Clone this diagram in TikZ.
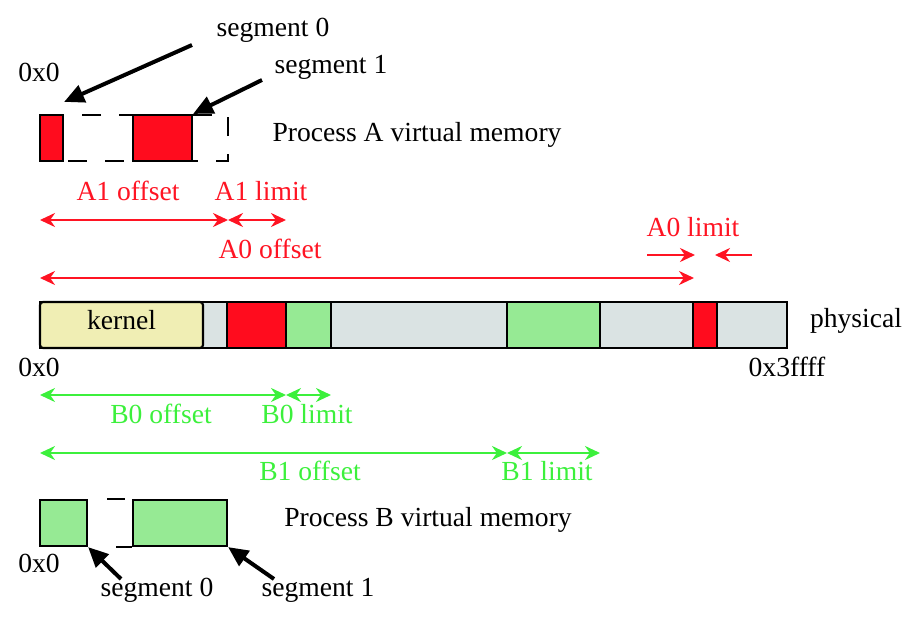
\documentclass[tikz,border=0pt]{standalone}
\usepackage{fontspec}
\setmainfont{Liberation Serif}
\usetikzlibrary{arrows.meta}
\definecolor{segred}{RGB}{255,12,30}
\definecolor{arrred}{RGB}{255,20,35}
\definecolor{seggreen}{RGB}{150,234,148}
\definecolor{arrgreen}{RGB}{60,240,60}
\definecolor{physgray}{RGB}{218,227,227}
\definecolor{kernyel}{RGB}{240,238,180}
\tikzset{
  lbl/.style={font=\fontsize{27.6}{32}\selectfont, inner sep=0pt},
  seg/.style={draw=black, line width=2.2pt, inner sep=0pt, minimum height=46pt},
  redarr/.style={draw=arrred, line width=2.4pt, {Stealth[length=15pt,width=14pt]}-{Stealth[length=15pt,width=14pt]}},
  redone/.style={draw=arrred, line width=2.4pt, -{Stealth[length=15pt,width=14pt]}},
  greenarr/.style={draw=arrgreen, line width=2.4pt, {Stealth[length=15pt,width=14pt]}-{Stealth[length=15pt,width=14pt]}},
  blackarr/.style={draw=black, line width=4pt, -{Triangle[length=20pt,width=18pt]}}
}
\begin{document}
\begin{tikzpicture}[x=1pt,y=-1pt]
\useasboundingbox (0,0) rectangle (922,640);
% ---------------- Process A ----------------
\node[seg, draw, dash pattern=on 19pt off 18pt, dash phase=9pt, minimum width=188pt] (pafr) at (134,138) {};
\node[seg, fill=segred, minimum width=23pt] (pa0) at (51.5,138) {};
\node[seg, fill=segred, minimum width=59pt] (pa1) at (162.5,138) {};
\node[lbl] (pa0x) at (39,72) {0x0};
\node[lbl] (pas0) at (273,30) {segment 0};
\node[lbl] (pas1) at (331,67) {segment 1};
\node[lbl] (palab) at (417,135) {Process A virtual memory};
\coordinate (pas0s) at (192,45);
\coordinate (pas1s) at (262,80);
\draw[blackarr] (pas0s) -- ([yshift=12pt]pa0.north east);
\draw[blackarr] (pas1s) -- (pa1.north east);
% red measures
\coordinate (a1l) at (40,220);
\coordinate (a1m) at (228,220);
\coordinate (a1r) at (286,220);
\draw[redarr] (a1l) -- (a1m);
\draw[redarr] (a1m) -- (a1r);
\node[lbl, text=arrred] (a1off) at (128,191) {A1 offset};
\node[lbl, text=arrred] (a1lim) at (261,191) {A1 limit};
\node[lbl, text=arrred] (a0off) at (270,249) {A0 offset};
\coordinate (a0l) at (40,278);
\coordinate (a0r) at (694,278);
\draw[redarr] (a0l) -- (a0r);
\node[lbl, text=arrred] (a0lim) at (693,227) {A0 limit};
\coordinate (a0la) at (647,255);
\coordinate (a0lb) at (695,255);
\coordinate (a0lc) at (752,255);
\coordinate (a0ld) at (715,255);
\draw[redone] (a0la) -- (a0lb);
\draw[redone] (a0lc) -- (a0ld);
% ---------------- physical ----------------
\node[seg, fill=physgray, minimum width=747pt] (phys) at (413.5,325) {};
\node[seg, fill=kernyel, rounded corners=3pt, minimum width=163pt] (kern) at (121.5,325) {};
\node[lbl] (kernlab) at (121.5,320) {kernel};
\node[seg, fill=segred, minimum width=59pt] (pr1) at (256.5,325) {};
\node[seg, fill=seggreen, minimum width=45pt] (pg0) at (308.5,325) {};
\node[seg, fill=seggreen, minimum width=93pt] (pg1) at (553.5,325) {};
\node[seg, fill=segred, minimum width=24pt] (pr0) at (705,325) {};
\node[lbl] (physlab) at (856,321) {physical};
\node[lbl] (p0x) at (39,367) {0x0};
\node[lbl] (pend) at (787,367) {0x3ffff};
% green measures
\coordinate (b0l) at (40,395);
\coordinate (b0m) at (286,395);
\coordinate (b0r) at (331,395);
\draw[greenarr] (b0l) -- (b0m);
\draw[greenarr] (b0m) -- (b0r);
\node[lbl, text=arrgreen] (b0off) at (161,414) {B0 offset};
\node[lbl, text=arrgreen] (b0lim) at (307,414) {B0 limit};
\coordinate (b1l) at (40,453);
\coordinate (b1m) at (507,453);
\coordinate (b1r) at (600,453);
\draw[greenarr] (b1l) -- (b1m);
\draw[greenarr] (b1m) -- (b1r);
\node[lbl, text=arrgreen] (b1off) at (310,471) {B1 offset};
\node[lbl, text=arrgreen] (b1lim) at (547,471) {B1 limit};
% ---------------- Process B ----------------
\node[seg, fill=seggreen, minimum width=47pt] (pb0) at (63.5,523) {};
\node[seg, fill=seggreen, minimum width=94pt] (pb1) at (180,523) {};
\draw[line width=2.2pt, dash pattern=on 18pt off 28pt, dash phase=27pt] (pb0.north east) -- (pb1.north west);
\draw[line width=2.2pt, dash pattern=on 18pt off 28pt, dash phase=18pt] (pb0.south east) -- (pb1.south west);
\node[lbl] (pblab) at (428,520) {Process B virtual memory};
\node[lbl] (pb0x) at (39,563) {0x0};
\node[lbl] (pbs0) at (157,590) {segment 0};
\node[lbl] (pbs1) at (318,590) {segment 1};
\coordinate (pbs0s) at (121,579);
\coordinate (pbs1s) at (274,579);
\draw[blackarr] (pbs0s) -- (pb0.south east);
\draw[blackarr] (pbs1s) -- (pb1.south east);
\end{tikzpicture}
\end{document}
